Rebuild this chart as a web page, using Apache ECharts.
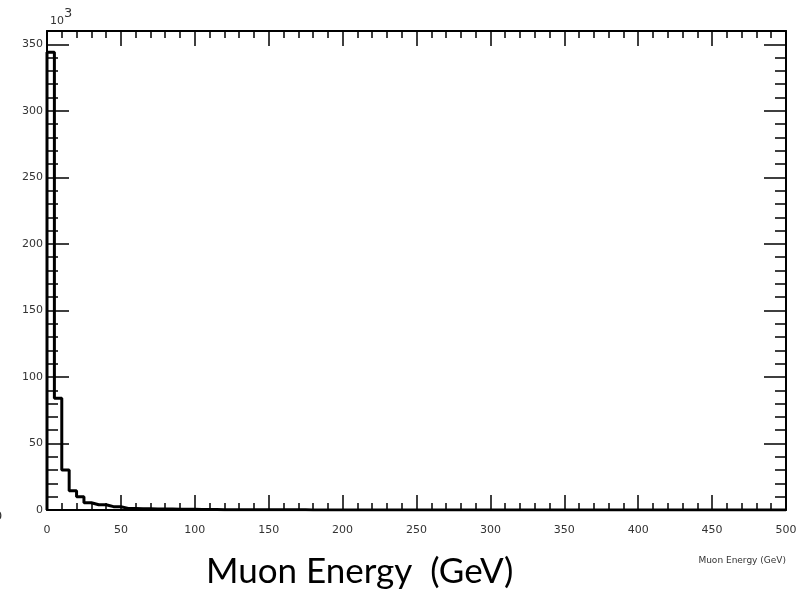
<!DOCTYPE html>
<html>
<head>
<meta charset="utf-8">
<title>Muon Energy</title>
<script src="https://cdn.jsdelivr.net/npm/echarts@6/dist/echarts.min.js"></script>
<style>
  html, body { margin: 0; padding: 0; background: #ffffff; }
  #chart { width: 802px; height: 602px; }
</style>
</head>
<body>
<div id="chart"></div>
<script>
// Histogram of muon energies: 5 GeV bins from 0 to 500 GeV, entries in units of 10^3.
const binWidth = 5;
const energyRange = [0, 500];
const countRange = [0, 360];
const xMajorStep = 50;
const yMajorStep = 50;
const yMinorStep = 10;

const counts = [
  344, 84, 30, 14.5, 10, 5.5, 4, 4, 2.5, 2.5,
  1.2, 1.1, 1.0, 0.9, 0.8, 0.8, 0.7, 0.6, 0.6, 0.5,
  0.3, 0.3, 0.3, 0.2, 0.2, 0.2, 0.2, 0.2, 0.1, 0.1,
  0.1, 0.1, 0.1, 0.1, 0.1, 0, 0, 0, 0, 0,
  0, 0, 0, 0, 0, 0, 0, 0, 0, 0,
  0, 0, 0, 0, 0, 0, 0, 0, 0, 0,
  0, 0, 0, 0, 0, 0, 0, 0, 0, 0,
  0, 0, 0, 0, 0, 0, 0, 0, 0, 0,
  0, 0, 0, 0, 0, 0, 0, 0, 0, 0,
  0, 0, 0, 0, 0, 0, 0, 0, 0, 0
];

const axisTitle = 'Muon Energy (GeV)';
const caption = 'Muon Energy  (GeV)';
const exponentBase = '10';
const exponentPower = '3';

// Outline points at each bin's left edge, drawn as a step line.
const outline = [[energyRange[0], 0]];
counts.forEach((c, i) => outline.push([energyRange[0] + i * binWidth, c]));
outline.push([energyRange[1], counts[counts.length - 1]]);

const ink = '#000000';
const labelFont = { fontFamily: 'DejaVu Sans', fontSize: 11, color: '#333333' };

function xAxisDef(pos, withLabels) {
  return {
    type: 'value', position: pos,
    min: energyRange[0], max: energyRange[1], interval: xMajorStep,
    axisLine: { show: true, onZero: false, lineStyle: { color: ink, width: 2 } },
    axisTick: { show: true, inside: true, length: 15, lineStyle: { color: ink, width: 1.5 } },
    minorTick: { show: true, splitNumber: 5, length: 7, lineStyle: { color: ink, width: 1.5 } },
    axisLabel: withLabels ? Object.assign({ show: true, margin: 15 }, labelFont) : { show: false },
    splitLine: { show: false }, minorSplitLine: { show: false }
  };
}

function yAxisDef(pos, step, tickLen, withLabels, withLine) {
  return {
    type: 'value', position: pos,
    min: countRange[0], max: countRange[1], interval: step,
    axisLine: { show: withLine, onZero: false, lineStyle: { color: ink, width: 2 } },
    axisTick: { show: true, inside: true, length: tickLen, lineStyle: { color: ink, width: 1.5 } },
    axisLabel: withLabels
      ? Object.assign({ show: true, margin: 4, showMaxLabel: false }, labelFont)
      : { show: false },
    splitLine: { show: false }
  };
}

const chart = echarts.init(document.getElementById('chart'), null, { renderer: 'canvas' });
chart.setOption({
  animation: false,
  backgroundColor: '#ffffff',
  grid: { left: 47, right: 16, top: 31, bottom: 92, containLabel: false },
  xAxis: [xAxisDef('bottom', true), xAxisDef('top', false)],
  yAxis: [
    yAxisDef('left', yMajorStep, 22, true, true),
    yAxisDef('left', yMinorStep, 11, false, false),
    yAxisDef('right', yMajorStep, 22, false, true),
    yAxisDef('right', yMinorStep, 11, false, false)
  ],
  series: [{
    type: 'line',
    step: 'end',
    data: outline,
    xAxisIndex: 0,
    yAxisIndex: 0,
    symbol: 'none',
    lineStyle: { color: ink, width: 3 },
    z: 5
  }],
  graphic: [
    {
      type: 'text', left: 50, top: 7,
      style: {
        text: '{b|' + exponentBase + '}{p|' + exponentPower + '}',
        rich: {
          b: { fontFamily: 'DejaVu Sans', fontSize: 11, fill: '#333333', padding: [9, 0, 0, 0] },
          p: { fontFamily: 'DejaVu Sans', fontSize: 13, fill: '#333333', verticalAlign: 'top' }
        }
      }
    },
    {
      type: 'text', right: 16, top: 556,
      style: { text: axisTitle, fontFamily: 'DejaVu Sans', fontSize: 9, fill: '#333333' }
    },
    {
      type: 'text', left: -6, top: 510,
      style: { text: '0', fontFamily: 'DejaVu Sans', fontSize: 13, fill: '#333333' }
    },
    {
      type: 'text', left: 206, top: 554,
      style: { text: caption, fontFamily: 'Lato', fontSize: 35, fill: '#000000' }
    }
  ]
});
</script>
</body>
</html>
